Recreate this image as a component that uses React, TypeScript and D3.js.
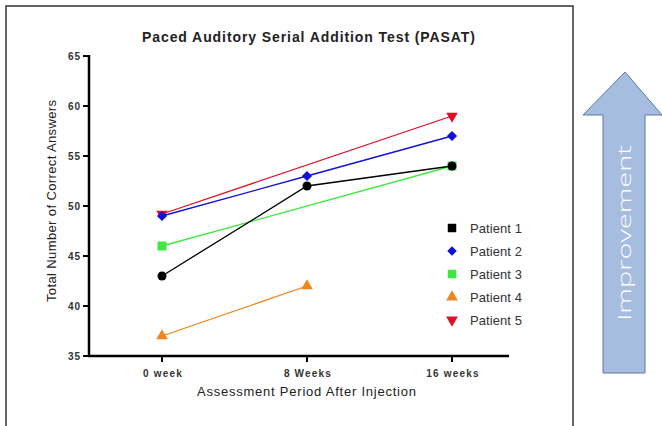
import React from "react";
import * as d3 from "d3";

const categories = ["0 week", "8 Weeks", "16 weeks"];
const patientNames = ["Patient 1", "Patient 2", "Patient 3", "Patient 4", "Patient 5"];
const patient1 = [43, 52, 54];
const patient2 = [49, 53, 57];
const patient3 = [46, null, 54];
const patient4 = [37, 42, null];
const patient5 = [49.2, null, 59];
const yTicks = [35, 40, 45, 50, 55, 60, 65];

const seriesValues = [patient1, patient2, patient3, patient4, patient5];
const colors = ["#000000", "#1010d8", "#3ee83e", "#f0861e", "#e0102a"];
const shapes = ["circle", "diamond", "square", "triangle", "triangleDown"];
const legendShapes = ["square", "diamond", "square", "triangle", "triangleDown"];

function symbolPath(kind: string, legend: boolean) {
  switch (kind) {
    case "circle":
      return d3.symbol(d3.symbolCircle, 64)()!;
    case "diamond":
      return d3.symbol(d3.symbolSquare, legend ? 45 : 52)()!;
    case "square":
      return d3.symbol(d3.symbolSquare, legend ? 72 : 80)()!;
    default:
      return d3.symbol(d3.symbolTriangle, legend ? 60 : 58)()!;
  }
}
function symbolRot(kind: string) {
  if (kind === "diamond") return 45;
  if (kind === "triangleDown") return 180;
  return 0;
}

export default function App() {
  const W = 662, H = 426;
  const x = d3.scalePoint<string>().domain(categories).range([162, 452]);
  const y = d3.scaleLinear().domain([35, 65]).range([356, 56]);
  const line = d3
    .line<{ c: string; v: number }>()
    .x((d) => x(d.c)!)
    .y((d) => y(d.v));
  const order = [4, 3, 2, 1, 0];
  const arrowPts = [
    [625, 72],
    [662, 115],
    [645, 115],
    [645, 373],
    [603, 373],
    [603, 115],
    [583, 115],
  ];
  const ptsOf = (i: number) =>
    seriesValues[i]
      .map((v, k) => ({ c: categories[k], v: v as number }))
      .filter((d) => d.v !== null && d.v !== undefined);
  return (
    <svg
      width={W}
      height={H}
      style={{ position: "absolute", left: 0, top: 0, background: "#fff" }}
      fontFamily="Liberation Sans, Arial, sans-serif"
    >
      <rect x={6} y={6} width={567} height={440} fill="#fff" stroke="#333" strokeWidth={1.5} />
      <text x={142} y={42} fontSize={14} fontWeight="bold" fill="#222" textLength={333} lengthAdjust="spacing">
        Paced Auditory Serial Addition Test (PASAT)
      </text>
      {/* y axis */}
      <line x1={89} x2={89} y1={y(65) - 1} y2={y(35) + 1} stroke="#000" strokeWidth={2.5} />
      {yTicks.map((t) => (
        <g key={t}>
          <line x1={83} x2={89} y1={y(t)} y2={y(t)} stroke="#000" strokeWidth={2} />
          <text x={81} y={y(t) + 3.5} textAnchor="end" fontSize={10} fontWeight="bold" fill="#333" letterSpacing={1}>
            {t}
          </text>
        </g>
      ))}
      <text
        transform={`translate(56,${y(50) - 5}) rotate(-90)`}
        textAnchor="middle"
        fontSize={13}
        fill="#222"
        textLength={202}
        lengthAdjust="spacing"
      >
        Total Number of Correct Answers
      </text>
      {/* x axis */}
      <line x1={88} x2={509} y1={356} y2={356} stroke="#000" strokeWidth={2.5} />
      {categories.map((c) => (
        <g key={c}>
          <line x1={x(c)} x2={x(c)} y1={356} y2={362} stroke="#000" strokeWidth={2} />
          <text x={x(c)! + 1} y={377} textAnchor="middle" fontSize={10} fontWeight="bold" fill="#333" letterSpacing={1.2}>
            {c}
          </text>
        </g>
      ))}
      <text x={197} y={396} fontSize={13} fill="#222" textLength={219} lengthAdjust="spacing">
        Assessment Period After Injection
      </text>
      {/* series */}
      {order.map((i) => (
        <path key={i} d={line(ptsOf(i))!} fill="none" stroke={colors[i]} strokeWidth={1.3} />
      ))}
      {order.map((i) => (
        <g key={"m" + i}>
          {ptsOf(i).map((d) => (
            <path
              key={d.c}
              d={symbolPath(shapes[i], false)}
              transform={`translate(${x(d.c)},${y(d.v)}) rotate(${symbolRot(shapes[i])})`}
              fill={colors[i]}
            />
          ))}
        </g>
      ))}
      {/* legend */}
      {patientNames.map((n, i) => (
        <g key={n} transform={`translate(452,${228 + i * 23})`}>
          <path d={symbolPath(legendShapes[i], true)} transform={`rotate(${symbolRot(legendShapes[i])})`} fill={colors[i]} />
          <text x={18} y={4.5} fontSize={13} fill="#333" textLength={52} lengthAdjust="spacing">
            {n}
          </text>
        </g>
      ))}
      {/* arrow */}
      <polygon
        points={arrowPts.map((p) => p.join(",")).join(" ")}
        fill="#a7bde0"
        stroke="#5a78a6"
        strokeWidth={1}
      />
      <text
        transform="translate(631,321) rotate(-90)"
        fontSize={18}
        fill="#fff"
        fontFamily="Open Sans, sans-serif"
        fontWeight={300}
        textLength={176}
        lengthAdjust="spacingAndGlyphs"
      >
        Improvement
      </text>
    </svg>
  );
}
